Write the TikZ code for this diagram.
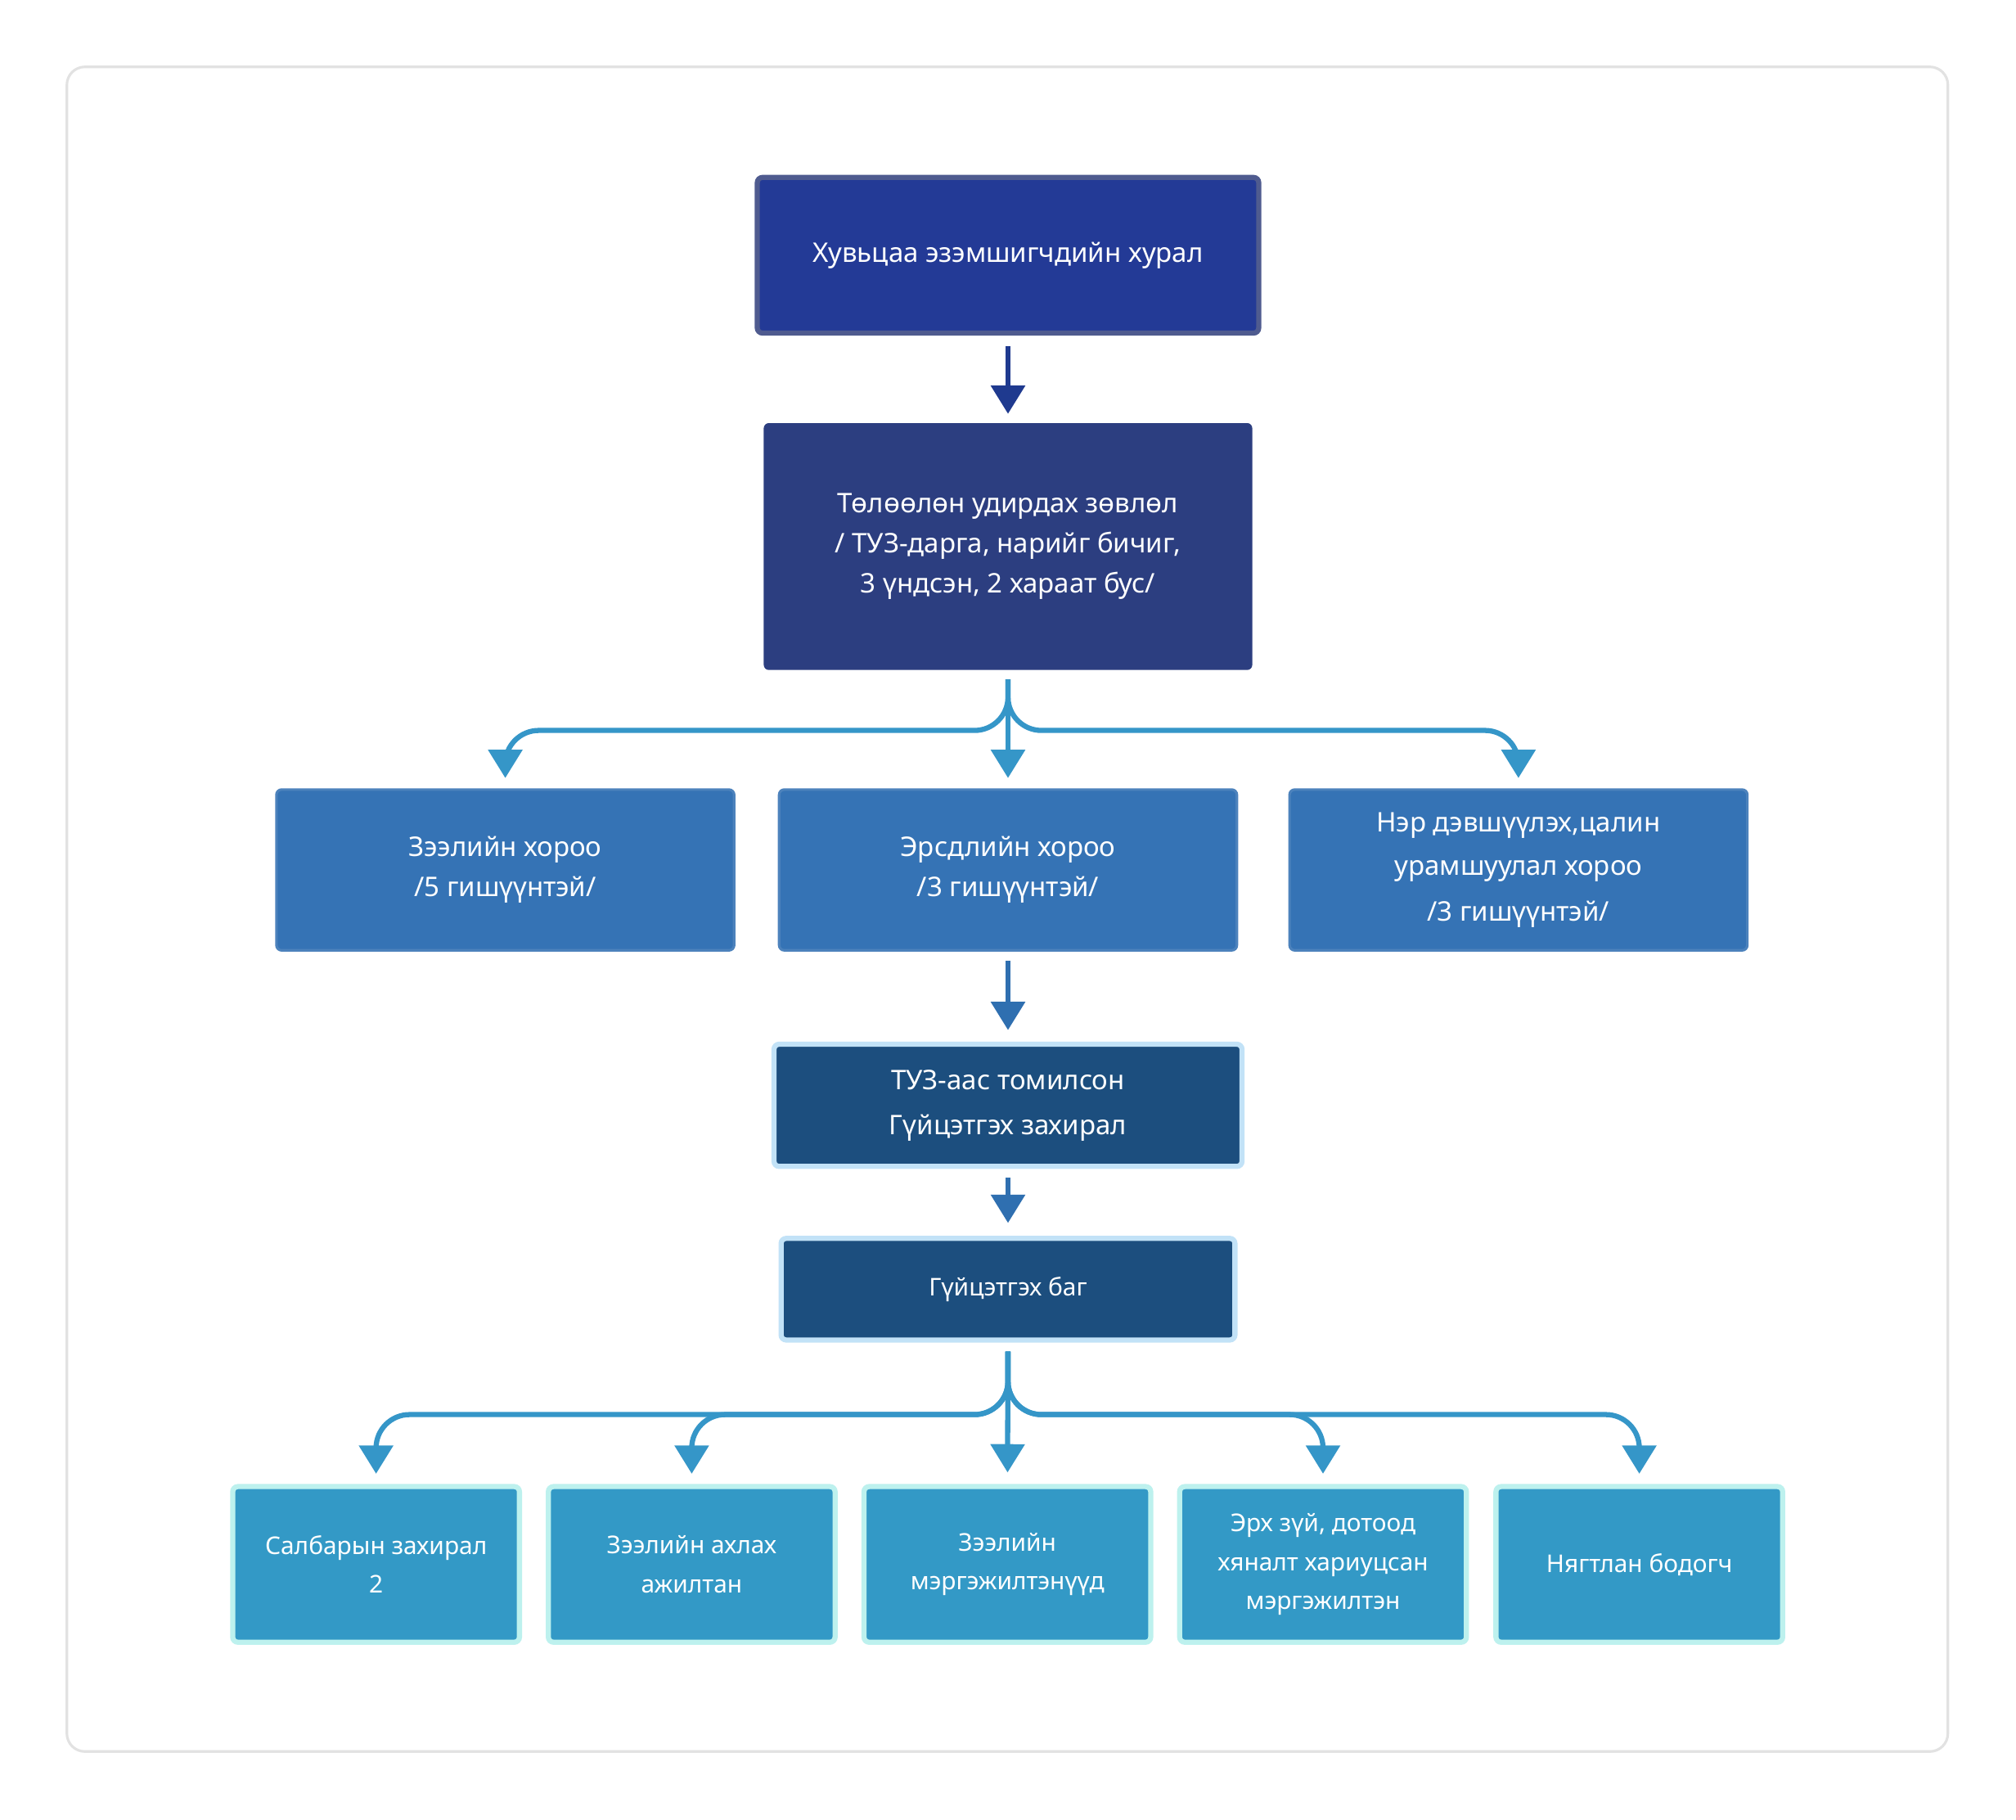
\documentclass[tikz,border=0pt]{standalone}
\usepackage{fontspec}
\setmainfont{Noto Sans}
\usetikzlibrary{arrows.meta}
\definecolor{frame}{HTML}{E2E2E2}
\definecolor{topfill}{HTML}{233A96}
\definecolor{topdraw}{HTML}{4F5B8F}
\definecolor{boardfill}{HTML}{2C3E80}
\definecolor{comfill}{HTML}{3573B5}
\definecolor{comdraw}{HTML}{4C82BC}
\definecolor{exfill}{HTML}{1C4E7E}
\definecolor{exdraw}{HTML}{C2E2F7}
\definecolor{stfill}{HTML}{3399C6}
\definecolor{stdraw}{HTML}{BDF1EE}
\definecolor{arrA}{HTML}{1F3A8F}
\definecolor{arrB}{HTML}{3596C8}
\definecolor{arrC}{HTML}{2F6FB0}
\tikzset{
 box/.style={rounded corners=4, align=center, text=white, inner sep=0, font=\fontsize{21}{31}\selectfont},
 arr/.style={line width=4, -{Triangle[length=22,width=26]}},
 br/.style={arr, draw=arrB, rounded corners=26, shorten <=7, shorten >=8},
}
\begin{document}
\begin{tikzpicture}[x=1pt,y=-1pt]
\useasboundingbox (0,0) rectangle (1568,1415);
\draw[frame,line width=2,rounded corners=14,fill=white] (52,52) rectangle (1515,1362);
\node[box,fill=topfill,draw=topdraw,line width=4,minimum width=390,minimum height=121] (b1) at (784,198.5) {Хувьцаа эзэмшигчдийн хурал};
\node[box,fill=boardfill,minimum width=380,minimum height=192] (b2) at (784,425) {Төлөөлөн удирдах зөвлөл\\/ ТУЗ-дарга, нарийг бичиг,\\3 үндсэн, 2 хараат бус/};
\node[box,fill=comfill,draw=comdraw,line width=2,minimum width=356,minimum height=125] (z1) at (393,676.5) {Зээлийн хороо\\/5 гишүүнтэй/};
\node[box,fill=comfill,draw=comdraw,line width=2,minimum width=356,minimum height=125] (z2) at (784,676.5) {Эрсдлийн хороо\\/3 гишүүнтэй/};
\node[box,fill=comfill,draw=comdraw,line width=2,minimum width=356,minimum height=125,font=\fontsize{21}{17}\selectfont] (z3) at (1181,676.5) {Нэр дэвшүүлэх,цалин\\[17pt]урамшуулал хороо\\[14pt]/3 гишүүнтэй/};
\node[box,fill=exfill,draw=exdraw,line width=4,minimum width=364,minimum height=95,font=\fontsize{21}{35}\selectfont] (e1) at (784,859.5) {ТУЗ-аас томилсон\\Гүйцэтгэх захирал};
\node[box,fill=exfill,draw=exdraw,line width=4,minimum width=353,minimum height=79,font=\fontsize{19}{30}\selectfont] (e2) at (784,1002.5) {Гүйцэтгэх баг};
\foreach \i/\x/\t in {1/292.5/{Салбарын захирал\\2},2/538/{Зээлийн ахлах\\ажилтан},3/783.5/{Зээлийн\\мэргэжилтэнүүд},4/1029/{Эрх зүй, дотоод\\хяналт хариуцсан\\мэргэжилтэн},5/1275/{Нягтлан бодогч}}
 \node[box,fill=stfill,draw=stdraw,line width=4,minimum width=223,minimum height=121,font=\fontsize{19}{30}\selectfont] (s\i) at (\x,1216.5) {\t};
\draw[arr,draw=arrA,shorten <=8,shorten >=7] (b1) -- (b2);
\coordinate (c1) at (393,568); \coordinate (c3) at (1181,568);
\draw[br] (b2.south) |- (c1) -- (z1.north);
\draw[br] (b2.south) |- (c3) -- (z3.north);
\draw[arr,draw=arrB,shorten <=7,shorten >=8] (b2) -- (z2);
\draw[arr,draw=arrC,shorten <=7,shorten >=9] (z2) -- (e1);
\draw[arr,draw=arrC,shorten <=7,shorten >=10] (e1) -- (e2);
\foreach \i/\x in {1/292.5,2/538,4/1029,5/1275}{
 \coordinate (d\i) at (\x,1100);
 \draw[br] (e2.south) |- (d\i) -- (s\i.north);}
\draw[arr,draw=arrB,shorten <=7,shorten >=9] (e2) -- (s3);
\end{tikzpicture}
\end{document}
